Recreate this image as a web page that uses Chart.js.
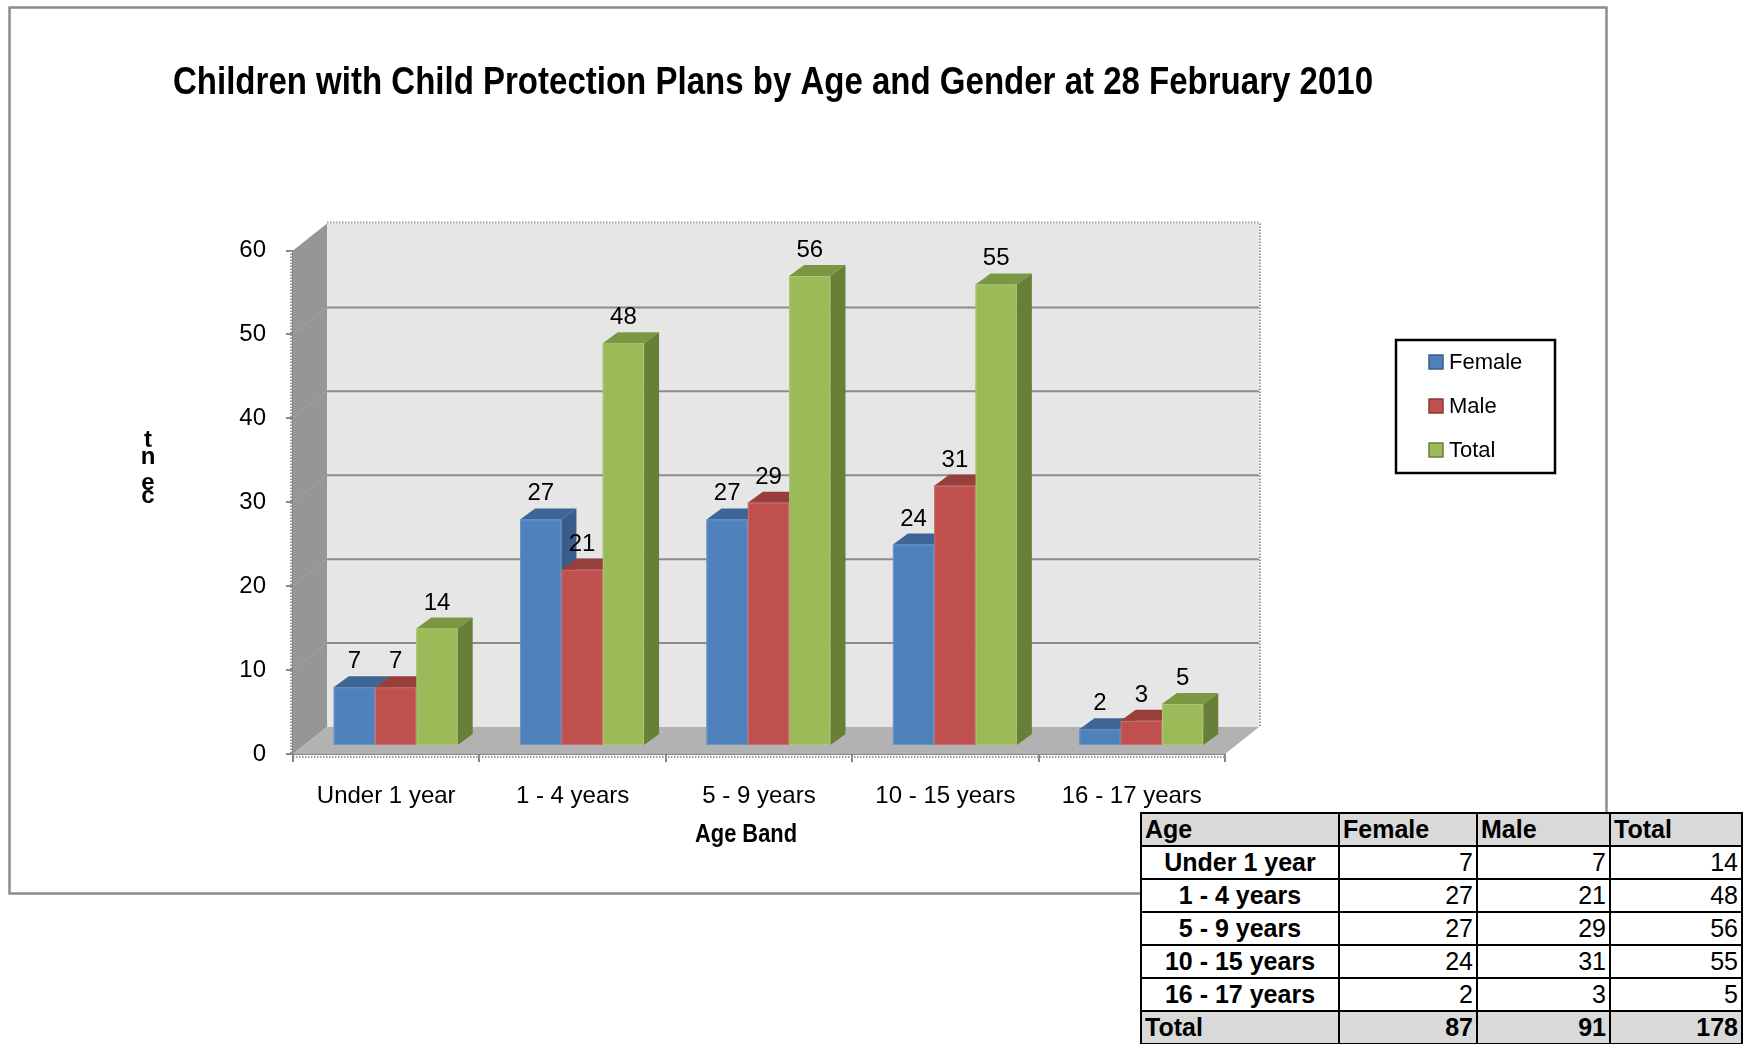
<!DOCTYPE html>
<html>
<head>
<meta charset="utf-8">
<script src="https://cdn.jsdelivr.net/npm/chart.js@4.4.1/dist/chart.umd.min.js"></script>
<style>
html,body{margin:0;padding:0;background:#fff;}
#wrap{position:relative;width:1745px;height:1044px;overflow:hidden;background:#fff;}
#c{position:absolute;left:0;top:0;}
#tbl{position:absolute;left:1140px;top:812px;border-collapse:collapse;background:#fff;
  font-family:"Liberation Sans",Arial,sans-serif;font-size:25px;color:#000;table-layout:fixed;}
#tbl td{border:2px solid #000;padding:0 3px;height:31px;line-height:29px;white-space:nowrap;overflow:hidden;}
#tbl tr.hd td,#tbl tr.tt td{background:#d9d9d9;font-weight:bold;}
#tbl td.lab{font-weight:bold;text-align:center;}
#tbl td.num{text-align:right;}
#tbl tr.hd td{text-align:left;}
#tbl tr.tt td.first{text-align:left;}
</style>
</head>
<body>
<div id="wrap">
<canvas id="c" width="1745" height="1044"></canvas>
<table id="tbl"></table>
</div>
<script>
// ---- data ----
const categories = ['Under 1 year', '1 - 4 years', '5 - 9 years', '10 - 15 years', '16 - 17 years'];
const female = [7, 27, 27, 24, 2];
const male = [7, 21, 29, 31, 3];
const total = [14, 48, 56, 55, 5];
const seriesNames = ['Female', 'Male', 'Total'];
const yTickValues = [0, 10, 20, 30, 40, 50, 60];
const chartTitle = 'Children with Child Protection Plans by Age and Gender at 28 February 2010';
const xAxisTitle = 'Age Band';
const yAxisGlyphs = ['t', 'n', 'e', 'c'];
const tableHeader = ['Age', 'Female', 'Male', 'Total'];

// ---- styles ----
const frontCol = ['#4f81bd', '#c0504d', '#9bbb59'];
const topCol = ['#3d6697', '#983f3c', '#7a9842'];
const sideCol = ['#385d8a', '#8a3936', '#687f38'];
const FONT = '"Liberation Sans", Arial, sans-serif';
const DEPTH = {dx: 34, dy: -27};       // wall depth
const BAR_SHIFT = {dx: 9.5, dy: -8};   // bars sit inside the 3D floor
const BAR_DEPTH = {dx: 15, dy: -11};   // bar top/side depth

function poly(ctx, pts, fill, stroke, lw) {
  ctx.beginPath();
  ctx.moveTo(pts[0][0], pts[0][1]);
  for (let i = 1; i < pts.length; i++) ctx.lineTo(pts[i][0], pts[i][1]);
  ctx.closePath();
  if (fill) { ctx.fillStyle = fill; ctx.fill(); }
  if (stroke) { ctx.strokeStyle = stroke; ctx.lineWidth = lw || 1; ctx.stroke(); }
}

function fitText(ctx, text, cx, cy, font, targetW) {
  ctx.save();
  ctx.font = font;
  const w = ctx.measureText(text).width;
  ctx.translate(cx, cy);
  ctx.scale(targetW / w, 1);
  ctx.fillStyle = '#000';
  ctx.textAlign = 'center';
  ctx.textBaseline = 'middle';
  ctx.fillText(text, 0, 0);
  ctx.restore();
}

const scenePlugin = {
  id: 'scene3d',
  beforeDraw(chart) {
    const ctx = chart.ctx;
    ctx.save();
    ctx.strokeStyle = '#8c8c8c';
    ctx.lineWidth = 2.5;
    ctx.strokeRect(9.5, 7.5, 1597, 886);
    ctx.restore();
    fitText(ctx, chartTitle, 773, 84, 'bold 38px ' + FONT, 1200);
  },
  beforeDatasetsDraw(chart) {
    const {ctx, chartArea: a, scales: {x, y}} = chart;
    const y0 = y.getPixelForValue(0), yMax = y.getPixelForValue(60);
    const {dx, dy} = DEPTH;
    ctx.save();
    poly(ctx, [[a.left + dx, yMax + dy], [a.right + dx, yMax + dy], [a.right + dx, y0 + dy], [a.left + dx, y0 + dy]], '#e6e6e6');
    poly(ctx, [[a.left, y0], [a.left, yMax], [a.left + dx, yMax + dy], [a.left + dx, y0 + dy]], '#969696');
    poly(ctx, [[a.left, y0], [a.right, y0], [a.right + dx, y0 + dy], [a.left + dx, y0 + dy]], '#b2b2b2');
    yTickValues.forEach(v => {
      if (v === 0 || v === 60) return;
      const py = y.getPixelForValue(v);
      ctx.strokeStyle = '#8c8c8c';
      ctx.lineWidth = 2;
      ctx.beginPath();
      ctx.moveTo(a.left + dx, py + dy);
      ctx.lineTo(a.right + dx, py + dy);
      ctx.stroke();
      ctx.strokeStyle = '#a3a3a3';
      ctx.lineWidth = 1;
      ctx.beginPath();
      ctx.moveTo(a.left, py);
      ctx.lineTo(a.left + dx, py + dy);
      ctx.stroke();
    });
    ctx.setLineDash([1.5, 1.5]);
    ctx.strokeStyle = '#9a9a9a';
    ctx.lineWidth = 2;
    ctx.beginPath();
    ctx.moveTo(a.left + dx, yMax + dy - 1); ctx.lineTo(a.right + dx, yMax + dy - 1);
    ctx.moveTo(a.right + dx + 1, yMax + dy); ctx.lineTo(a.right + dx + 1, y0 + dy);
    ctx.moveTo(a.left - 2, yMax); ctx.lineTo(a.left - 2, y0);
    ctx.moveTo(a.left, y0 + 3); ctx.lineTo(a.right, y0 + 3);
    ctx.stroke();
    ctx.setLineDash([]);
    ctx.restore();
    ctx.save();
    ctx.translate(BAR_SHIFT.dx, BAR_SHIFT.dy);
  },
  afterDatasetsDraw(chart) {
    const ctx = chart.ctx;
    const {dx, dy} = BAR_DEPTH;
    for (let d = 0; d < chart.data.datasets.length; d++) {
      const meta = chart.getDatasetMeta(d);
      meta.data.forEach(el => {
        const l = el.x - el.width / 2, r = el.x + el.width / 2, t = el.y, b = el.base;
        poly(ctx, [[l, t], [r, t], [r, b], [l, b]], frontCol[d]);
        poly(ctx, [[l, t], [r, t], [r + dx, t + dy], [l + dx, t + dy]], topCol[d]);
        poly(ctx, [[r, t], [r + dx, t + dy], [r + dx, b + dy], [r, b]], sideCol[d]);
        ctx.strokeStyle = 'rgba(255,255,255,0.18)';
        ctx.lineWidth = 1;
        ctx.strokeRect(l + 0.5, t + 0.5, r - l - 1, b - t - 1);
      });
    }
    ctx.fillStyle = '#000';
    ctx.font = '24px ' + FONT;
    ctx.textAlign = 'center';
    ctx.textBaseline = 'alphabetic';
    for (let d = 0; d < chart.data.datasets.length; d++) {
      const meta = chart.getDatasetMeta(d);
      meta.data.forEach((el, i) => {
        ctx.fillText(String(chart.data.datasets[d].data[i]), el.x, el.y - 19);
      });
    }
    ctx.restore();
  },
  afterDraw(chart) {
    const ctx = chart.ctx;
    fitText(ctx, xAxisTitle, 746, 835, 'bold 25px ' + FONT, 102);
    ctx.save();
    ctx.fillStyle = '#000';
    ctx.textAlign = 'center';
    ctx.textBaseline = 'middle';
    ctx.font = 'bold 24px ' + FONT;
    const gy = [440, 457, 483, 496];
    yAxisGlyphs.forEach((g, i) => ctx.fillText(g, 148, gy[i]));
    ctx.strokeStyle = '#000';
    ctx.lineWidth = 2.5;
    ctx.strokeRect(1396, 340, 159, 133);
    ctx.font = '22px ' + FONT;
    ctx.textAlign = 'left';
    chart.data.datasets.forEach((ds, i) => {
      const cy = 362 + i * 44;
      ctx.fillStyle = frontCol[i];
      ctx.fillRect(1429, cy - 7, 14, 14);
      ctx.strokeStyle = sideCol[i];
      ctx.lineWidth = 1.5;
      ctx.strokeRect(1429, cy - 7, 14, 14);
      ctx.fillStyle = '#000';
      ctx.fillText(ds.label, 1449, cy + 1);
    });
    ctx.restore();
  }
};

new Chart(document.getElementById('c'), {
  type: 'bar',
  data: {
    labels: categories,
    datasets: [
      {label: seriesNames[0], data: female, backgroundColor: frontCol[0]},
      {label: seriesNames[1], data: male, backgroundColor: frontCol[1]},
      {label: seriesNames[2], data: total, backgroundColor: frontCol[2]}
    ]
  },
  options: {
    responsive: false,
    animation: false,
    devicePixelRatio: 1,
    layout: {padding: {top: 250.5, right: 520, bottom: 0, left: 0}},
    datasets: {bar: {categoryPercentage: 0.665, barPercentage: 1.0, clip: false}},
    plugins: {legend: {display: false}, title: {display: false}, tooltip: {enabled: false}},
    scales: {
      x: {
        offset: true,
        grid: {offset: true, drawOnChartArea: false, drawTicks: true, tickLength: 8, color: '#868686', lineWidth: 2},
        border: {display: true, color: '#868686', width: 2},
        ticks: {color: '#000', font: {family: FONT, size: 24}, padding: 20, maxRotation: 0},
        afterFit: s => { s.height = 290; }
      },
      y: {
        min: 0, max: 60,
        afterBuildTicks: s => { s.ticks = yTickValues.map(v => ({value: v})); },
        grid: {drawOnChartArea: false, drawTicks: true, tickLength: 7, color: '#868686', lineWidth: 2},
        border: {display: true, color: '#868686', width: 2},
        ticks: {color: '#000', font: {family: FONT, size: 24}, padding: 20},
        afterFit: s => { s.width = 293; }
      }
    }
  },
  plugins: [scenePlugin]
});

(function () {
  const tbl = document.getElementById('tbl');
  const widths = [198, 138, 133, 132];
  const cg = document.createElement('colgroup');
  widths.forEach(w => { const c = document.createElement('col'); c.style.width = w + 'px'; cg.appendChild(c); });
  tbl.appendChild(cg);
  const sum = a => a.reduce((p, q) => p + q, 0);
  let html = '<tr class="hd">' + tableHeader.map(h => '<td>' + h + '</td>').join('') + '</tr>';
  categories.forEach((c, i) => {
    html += '<tr><td class="lab">' + c + '</td><td class="num">' + female[i] + '</td><td class="num">' + male[i] + '</td><td class="num">' + total[i] + '</td></tr>';
  });
  html += '<tr class="tt"><td class="first">Total</td><td class="num">' + sum(female) + '</td><td class="num">' + sum(male) + '</td><td class="num">' + sum(total) + '</td></tr>';
  tbl.insertAdjacentHTML('beforeend', html);
})();
</script>
</body>
</html>
